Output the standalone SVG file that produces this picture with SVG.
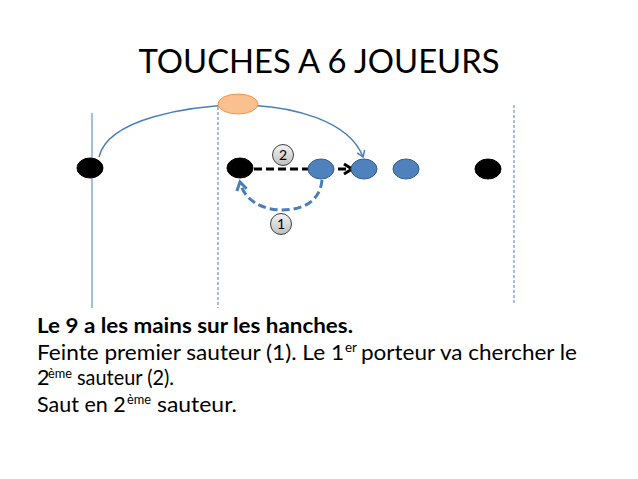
<svg xmlns="http://www.w3.org/2000/svg" width="638" height="479" viewBox="0 0 638 479">
<defs>
<style>
.t{font-family:Lato,"Liberation Sans",sans-serif;fill:#000}
.c{font-size:21.5px}
.s{font-size:14px}
.field{stroke:#4a7ebb;stroke-width:1;fill:none}
.dash{stroke-dasharray:3 2}
.blk{fill:#000;stroke:#000;stroke-width:1}
.blu{fill:#4f81bd;stroke:#385d8a;stroke-width:1}
.lbl{fill:url(#g);stroke:#404040;stroke-width:1}
.num{font-family:Lato,"Liberation Sans",sans-serif;font-size:14px;text-anchor:middle;fill:#000}
</style>
<linearGradient id="g" x1="0" y1="0" x2="0" y2="1">
<stop offset="0" stop-color="#f4f4f4"/>
<stop offset="1" stop-color="#bfbfbf"/>
</linearGradient>
<marker id="ab" markerWidth="10" markerHeight="10" refX="8" refY="5" orient="auto" markerUnits="userSpaceOnUse">
<path d="M2,1 L8,5 L2,9" fill="none" stroke="#4a7ebb" stroke-width="1.5"/>
</marker>
<marker id="ak" markerWidth="14" markerHeight="14" refX="11" refY="7" orient="auto" markerUnits="userSpaceOnUse">
<path d="M3,2 L11,7 L3,12" fill="none" stroke="#000" stroke-width="3"/>
</marker>
<marker id="abd" markerWidth="14" markerHeight="14" refX="11" refY="7" orient="auto" markerUnits="userSpaceOnUse">
<path d="M3,2 L11,7 L3,12" fill="none" stroke="#4a7ebb" stroke-width="3"/>
</marker>
</defs>
<rect width="638" height="479" fill="#fff"/>
<text class="t" x="319" y="73" font-size="32" text-anchor="middle" textLength="361" lengthAdjust="spacingAndGlyphs">TOUCHES A 6 JOUEURS</text>
<g id="field">
<line class="field" x1="92" y1="113" x2="92" y2="308"/>
<line class="field dash" x1="218" y1="107" x2="218" y2="308"/>
<line class="field dash" x1="514" y1="105" x2="514" y2="303"/>
</g>
<g id="connectors">
<path d="M99,157 C108,118 190,106 238,105 C295,105 350,122 363,157" fill="none" stroke="#4a7ebb" stroke-width="1.5" marker-end="url(#ab)"/>
<path d="M254,169 L352,169" fill="none" stroke="#000" stroke-width="3" stroke-dasharray="8 4" marker-end="url(#ak)"/>
<path d="M322,180 C320,202 302,210 282,210 C262,210 244,200 240,182" fill="none" stroke="#4a7ebb" stroke-width="3" stroke-dasharray="8 4" marker-end="url(#abd)"/>
</g>
<g id="center"><ellipse cx="238" cy="104" rx="20" ry="10" fill="#fac090" stroke="#f79646" stroke-width="1"/></g>
<g id="p1"><ellipse class="blk" cx="90" cy="168" rx="13" ry="10"/></g>
<g id="p2"><ellipse class="blk" cx="240" cy="168" rx="13" ry="10"/></g>
<g id="p3"><ellipse class="blu" cx="321" cy="169" rx="13" ry="10"/></g>
<g id="p4"><ellipse class="blu" cx="364" cy="169" rx="13" ry="10"/></g>
<g id="p5"><ellipse class="blu" cx="406" cy="169" rx="13" ry="10"/></g>
<g id="p6"><ellipse class="blk" cx="488" cy="169" rx="13" ry="10"/></g>
<g id="lbl2"><circle class="lbl" cx="283" cy="155" r="10.5"/><text class="num" x="283" y="160">2</text></g>
<g id="lbl1"><circle class="lbl" cx="281" cy="224" r="10.5"/><text class="num" x="281" y="229">1</text></g>
<g id="caption" class="t">
<text class="c" x="37" y="333" font-weight="bold" textLength="316" lengthAdjust="spacingAndGlyphs">Le 9 a les mains sur les hanches.</text>
<text class="c" x="37" y="360" textLength="307" lengthAdjust="spacingAndGlyphs">Feinte premier sauteur (1). Le 1</text>
<text class="s" x="345" y="352" textLength="12" lengthAdjust="spacingAndGlyphs">er</text>
<text class="c" x="361" y="360" textLength="216" lengthAdjust="spacingAndGlyphs">porteur va chercher le</text>
<text class="c" x="37" y="385">2</text>
<text class="s" x="48" y="378" textLength="24" lengthAdjust="spacingAndGlyphs">ème</text>
<text class="c" x="77" y="385" textLength="97" lengthAdjust="spacingAndGlyphs">sauteur (2).</text>
<text class="c" x="37" y="412">Saut en 2</text>
<text class="s" x="127" y="404" textLength="24" lengthAdjust="spacingAndGlyphs">ème</text>
<text class="c" x="157" y="412" textLength="80" lengthAdjust="spacingAndGlyphs">sauteur.</text>
</g>
</svg>
